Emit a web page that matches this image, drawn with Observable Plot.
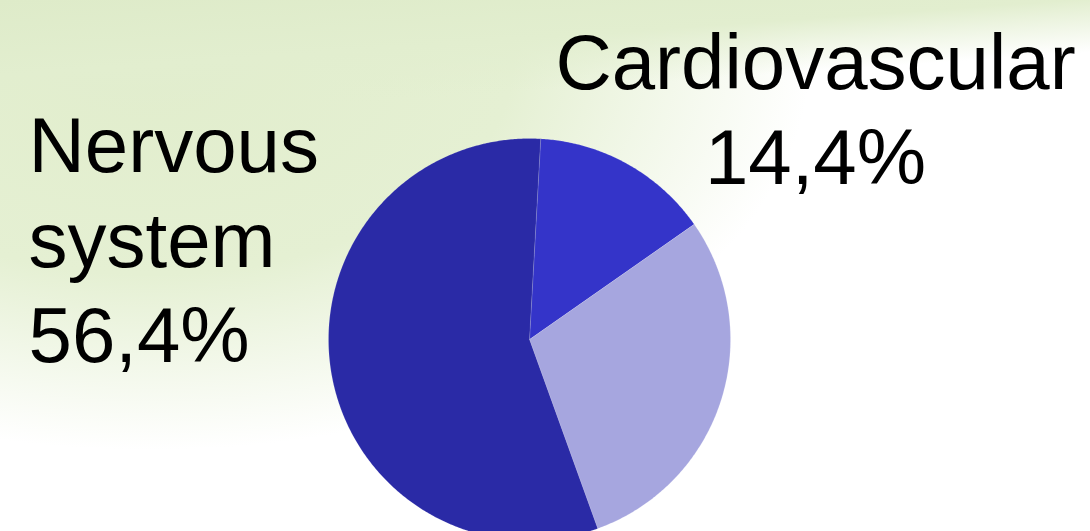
<!DOCTYPE html>
<html>
<head>
<meta charset="utf-8">
<script src="https://cdn.jsdelivr.net/npm/d3@7"></script>
<script src="https://cdn.jsdelivr.net/npm/@observablehq/plot@0.6"></script>
<style>
  html, body { margin: 0; padding: 0; background: #ffffff; }
  #chart {
    width: 1090px; height: 531px; overflow: hidden;
    background:
      linear-gradient(176deg, #deebc9 0px, #e2eecf 75px, rgba(255,255,255,0) 128px),
      radial-gradient(ellipse 660px 390px at 150px 60px, #e1edcc 0%, #e5f0d3 55%, rgba(255,255,255,0) 100%),
      #ffffff;
  }
</style>
</head>
<body>
<div id="chart"></div>
<script>
// Data
const categories = ["Cardiovascular", "Other", "Nervous system"];
const shares = [14.4, 29.2, 56.4];
const shareLabels = ["14,4%", "", "56,4%"];
const labelNames = ["Cardiovascular", "", "Nervous\nsystem"];
const colors = ["#3434c9", "#a6a6df", "#2a2aa6"];

// Geometry (styling): pie center / radius in pixels
const W = 1090, H = 531, cx = 529, cy = 339, R = 201;
const startDeg = 3.2;

const pie = d3.pie().sort(null).value(d => d.share).startAngle(startDeg * Math.PI / 180)
  .endAngle(startDeg * Math.PI / 180 + 2 * Math.PI);
const rows = categories.map((c, i) => ({cat: c, share: shares[i]}));
const arcs = pie(rows);

// Polygon outline of each slice, in unit-circle coordinates (y up)
const pts = [];
for (const a of arcs) {
  const cat = a.data.cat;
  pts.push({cat, x: 0, y: 0});
  const n = Math.max(2, Math.ceil((a.endAngle - a.startAngle) / (Math.PI / 360)));
  for (let k = 0; k <= n; k++) {
    const t = a.startAngle + (a.endAngle - a.startAngle) * k / n;
    pts.push({cat, x: Math.sin(t), y: Math.cos(t)});
  }
  pts.push({cat, x: 0, y: 0});
}

const labels = [
  {text: labelNames[0] + "\n" + shareLabels[0], anchor: "middle", dx: 815, dy: 21},
  {text: labelNames[2] + "\n" + shareLabels[2], anchor: "start", dx: 28, dy: 104}
];

const font = "'Liberation Sans', Arial, Helvetica, sans-serif";

const chart = Plot.plot({
  width: W,
  height: H,
  margin: 0,
  style: {background: "transparent", fontFamily: font, overflow: "visible"},
  x: {domain: [-cx / R, (W - cx) / R], range: [0, W], axis: null},
  y: {domain: [-(H - cy) / R, cy / R], range: [H, 0], axis: null},
  color: {domain: categories, range: colors},
  marks: [
    Plot.line(pts, {x: "x", y: "y", z: "cat", fill: "cat", stroke: "#ffffff", strokeWidth: 0.4, strokeOpacity: 0.35, curve: "linear"}),
    ...labels.map(l => Plot.text([l], {
      text: "text",
      frameAnchor: "top-left",
      textAnchor: l.anchor,
      lineAnchor: "top",
      lineHeight: 1.22,
      dx: l.dx,
      dy: l.dy,
      fontSize: 78,
      fill: "#000000",
      fontFamily: font
    }))
  ]
});
document.getElementById("chart").appendChild(chart);
</script>
</body>
</html>
